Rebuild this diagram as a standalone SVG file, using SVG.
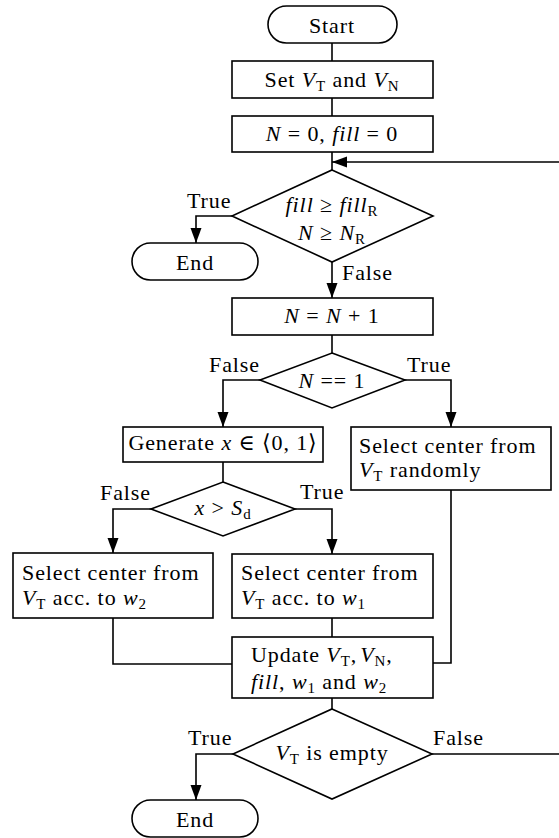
<svg xmlns="http://www.w3.org/2000/svg" width="559" height="838" viewBox="0 0 559 838">
<style>
text{font-family:"Liberation Serif","DejaVu Serif",serif;font-size:22px;letter-spacing:0.9px;fill:#000}
.m{text-anchor:middle}
.i{font-style:italic}
.s{font-size:15px}
.n{fill:#fff;stroke:#000;stroke-width:1.6}
.c{fill:none;stroke:#000;stroke-width:1.6}
</style>
<defs>
<marker id="a" markerUnits="userSpaceOnUse" markerWidth="16" markerHeight="12" refX="15" refY="6" orient="auto">
<path d="M0,0.5 L15,6 L0,11.5 z" fill="#000"/>
</marker>
</defs>
<g id="connectors">
<path class="c" d="M332,43 V61"/>
<path class="c" d="M332,98 V116"/>
<path class="c" d="M332,152 V170"/>
<path class="c" d="M432,754 H560.5 V162 H332" marker-end="url(#a)"/>
<path class="c" d="M232,216 H196 V243" marker-end="url(#a)"/>
<path class="c" d="M332,262 V298" marker-end="url(#a)"/>
<path class="c" d="M332,335 V353"/>
<path class="c" d="M260,380 H223 V427" marker-end="url(#a)"/>
<path class="c" d="M405,380 H451 V427" marker-end="url(#a)"/>
<path class="c" d="M223,462 V482"/>
<path class="c" d="M151,509 H113 V553" marker-end="url(#a)"/>
<path class="c" d="M295,509 H332 V554" marker-end="url(#a)"/>
<path class="c" d="M113,618 V664 H232"/>
<path class="c" d="M332,618 V637"/>
<path class="c" d="M451,490 V663 H433"/>
<path class="c" d="M332,698 V709"/>
<path class="c" d="M233,754 H196 V800" marker-end="url(#a)"/>
</g>
<g id="labels">
<text x="187" y="208">True</text>
<text x="342" y="280">False</text>
<text x="209" y="372">False</text>
<text x="407" y="372">True</text>
<text x="100" y="500">False</text>
<text x="300" y="499">True</text>
<text x="188" y="745">True</text>
<text x="433" y="745">False</text>
</g>
<g id="start">
<rect class="n" x="268" y="6" width="129" height="37" rx="18.5"/>
<text class="m" x="332" y="33">Start</text>
</g>
<g id="setV">
<rect class="n" x="232" y="61" width="201" height="37"/>
<text class="m" x="332" y="87">Set <tspan class="i">V</tspan><tspan class="s" dy="3.5">T</tspan><tspan dy="-3.5"> and </tspan><tspan class="i">V</tspan><tspan class="s" dy="3.5">N</tspan></text>
</g>
<g id="init">
<rect class="n" x="232" y="116" width="201" height="36"/>
<text class="m" x="332" y="141"><tspan class="i">N</tspan> = 0, <tspan class="i">fill</tspan> = 0</text>
</g>
<g id="check1">
<polygon class="n" points="332,170 433,216 332,262 232,216"/>
<text class="m" x="332" y="212"><tspan class="i">fill</tspan> ≥ <tspan class="i">fill</tspan><tspan class="s" dy="3.5">R</tspan></text>
<text class="m" x="332" y="240"><tspan class="i">N</tspan> ≥ <tspan class="i">N</tspan><tspan class="s" dy="3.5">R</tspan></text>
</g>
<g id="end1">
<rect class="n" x="132" y="243" width="126" height="37" rx="18.5"/>
<text class="m" x="195" y="270">End</text>
</g>
<g id="incN">
<rect class="n" x="232" y="298" width="201" height="37"/>
<text class="m" x="332" y="323"><tspan class="i">N</tspan> = <tspan class="i">N</tspan> + 1</text>
</g>
<g id="check2">
<polygon class="n" points="332,353 405,380 332,408 260,380"/>
<text class="m" x="332" y="388"><tspan class="i">N</tspan> == 1</text>
</g>
<g id="generate">
<rect class="n" x="123" y="427" width="200" height="35"/>
<text class="m" x="223" y="450">Generate <tspan class="i">x</tspan> ∈ ⟨0, 1⟩</text>
</g>
<g id="random">
<rect class="n" x="351" y="427" width="200" height="63"/>
<text x="359" y="453">Select center from</text>
<text x="359" y="477"><tspan class="i">V</tspan><tspan class="s" dy="3.5">T</tspan><tspan dy="-3.5"> randomly</tspan></text>
</g>
<g id="check3">
<polygon class="n" points="223,482 295,509 223,536 151,509"/>
<text class="m" x="223" y="515"><tspan class="i">x</tspan> &gt; <tspan class="i">S</tspan><tspan class="s" dy="3.5">d</tspan></text>
</g>
<g id="selw2">
<rect class="n" x="13" y="553" width="200" height="65"/>
<text x="22" y="580">Select center from</text>
<text x="22" y="605"><tspan class="i">V</tspan><tspan class="s" dy="3.5">T</tspan><tspan dy="-3.5"> acc. to </tspan><tspan class="i">w</tspan><tspan class="s" dy="3.5">2</tspan></text>
</g>
<g id="selw1">
<rect class="n" x="232" y="554" width="201" height="64"/>
<text x="241" y="580">Select center from</text>
<text x="241" y="605"><tspan class="i">V</tspan><tspan class="s" dy="3.5">T</tspan><tspan dy="-3.5"> acc. to </tspan><tspan class="i">w</tspan><tspan class="s" dy="3.5">1</tspan></text>
</g>
<g id="update">
<rect class="n" x="232" y="637" width="201" height="61"/>
<text x="251" y="662">Update <tspan class="i">V</tspan><tspan class="s" dy="3.5">T</tspan><tspan dy="-3.5">,</tspan><tspan class="i" dx="3">V</tspan><tspan class="s" dy="3.5">N</tspan><tspan dy="-3.5">,</tspan></text>
<text x="251" y="689"><tspan class="i">fill</tspan>, <tspan class="i">w</tspan><tspan class="s" dy="3.5">1</tspan><tspan dy="-3.5"> and </tspan><tspan class="i">w</tspan><tspan class="s" dy="3.5">2</tspan></text>
</g>
<g id="check4">
<polygon class="n" points="332,709 432,754 332,799 233,754"/>
<text class="m" x="332" y="760"><tspan class="i">V</tspan><tspan class="s" dy="3.5">T</tspan><tspan dy="-3.5"> is empty</tspan></text>
</g>
<g id="end2">
<rect class="n" x="132" y="800" width="126" height="37" rx="18.5"/>
<text class="m" x="195" y="827">End</text>
</g>
</svg>
